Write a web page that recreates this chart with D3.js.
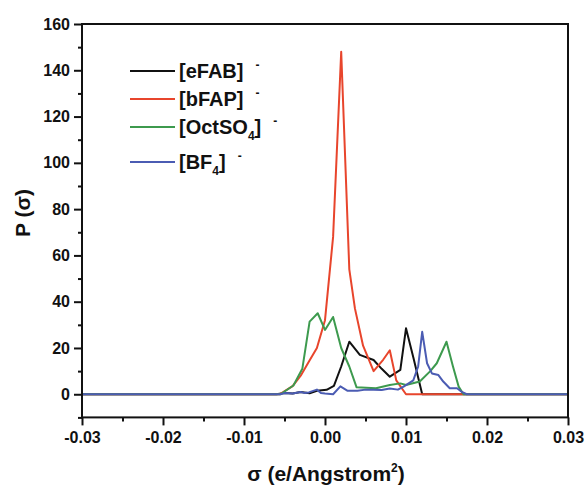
<!DOCTYPE html>
<html>
<head>
<meta charset="utf-8">
<script src="https://cdn.jsdelivr.net/npm/d3@7"></script>
<style>
body { margin: 0; background: #fff; }
text { font-family: "Liberation Sans", Arial, sans-serif; font-weight: bold; }
</style>
</head>
<body>
<script>
// sigma (e/A^2) and P(sigma)
var eFABSigma = [-0.03, -0.006, -0.005, -0.004, -0.003, -0.0019, -0.001, 0.0002, 0.0011, 0.002, 0.003, 0.0043, 0.006, 0.007, 0.008, 0.0093, 0.01, 0.0109, 0.012, 0.03];
var eFABP     = [0, 0, 0.5, 0.3, 1, 0.4, 1.5, 1.9, 3.6, 12, 22.7, 17, 14.8, 11, 7.6, 10.5, 28.5, 16, 0, 0];

var bFAPSigma = [-0.03, -0.0056, -0.004, -0.003, -0.002, -0.001, 0, 0.001, 0.002, 0.003, 0.0037, 0.0047, 0.006, 0.0072, 0.008, 0.0088, 0.01, 0.03];
var bFAPP     = [0, 0, 3.5, 8, 14, 20, 32, 68, 148, 54, 37, 21, 10, 15, 19, 6, 0, 0];

var octSigma = [-0.03, -0.0055, -0.0039, -0.0028, -0.0019, -0.0009, 0, 0.001, 0.002, 0.003, 0.0039, 0.0063, 0.008, 0.0093, 0.01, 0.0117, 0.013, 0.0138, 0.015, 0.0158, 0.0165, 0.0171, 0.03];
var octP     = [0, 0, 3.8, 11, 31.4, 35, 27.8, 33.4, 20, 12, 3, 2.6, 4, 4.7, 4, 5.5, 10, 13.4, 22.7, 12, 3.3, 0, 0];

var bf4Sigma = [-0.03, -0.0055, -0.005, -0.004, -0.003, -0.0025, -0.002, -0.001, -0.0005, 0, 0.001, 0.0019, 0.0028, 0.004, 0.005, 0.006, 0.007, 0.008, 0.009, 0.0097, 0.0109, 0.0115, 0.012, 0.0126, 0.0132, 0.014, 0.0146, 0.0154, 0.0163, 0.0169, 0.0175, 0.03];
var bf4P     = [0, 0, 0.5, 0.3, 1, 0.5, 0.8, 2, 0.5, 0.3, 0, 3.4, 1.5, 1.5, 2, 2, 1.8, 2.5, 2, 3.3, 6, 12, 27, 13.4, 9, 8.3, 5.5, 2.6, 2.6, 1, 0, 0];

var xTicks = [-0.03, -0.02, -0.01, 0, 0.01, 0.02, 0.03];
var yTicks = [0, 20, 40, 60, 80, 100, 120, 140, 160];

var series = [
  {name: "[eFAB]", sub: null, tail: "", sigma: eFABSigma, p: eFABP, color: "#111111"},
  {name: "[bFAP]", sub: null, tail: "", sigma: bFAPSigma, p: bFAPP, color: "#e8452c"},
  {name: "[OctSO", sub: "4", tail: "]", sigma: octSigma, p: octP, color: "#3d9a4e"},
  {name: "[BF", sub: "4", tail: "]", sigma: bf4Sigma, p: bf4P, color: "#4b5cb3"}
];

var svg = d3.select("body").append("svg")
    .attr("width", 586)
    .attr("height", 487);

var x = d3.scaleLinear().domain([-0.03, 0.03]).range([82, 568]);
var y = d3.scaleLinear().domain([-10, 160]).range([417.4, 24]);

// curves
var line = d3.line()
    .x(function(d) { return x(d[0]); })
    .y(function(d) { return y(d[1]); });

series.forEach(function(s) {
    var pts = s.sigma.map(function(v, i) { return [v, s.p[i]]; });
    svg.append("path")
        .datum(pts)
        .attr("fill", "none")
        .attr("stroke", s.color)
        .attr("stroke-width", 2)
        .attr("stroke-linejoin", "round")
        .attr("d", line);
});

// frame
svg.append("rect")
    .attr("x", x(-0.03)).attr("y", y(160))
    .attr("width", x(0.03) - x(-0.03))
    .attr("height", y(-10) - y(160))
    .attr("fill", "none")
    .attr("stroke", "#111")
    .attr("stroke-width", 2);

// x axis
var xMinor = svg.append("g")
    .attr("transform", "translate(0," + y(-10) + ")")
    .call(d3.axisBottom(x).tickValues([-0.025, -0.015, -0.005, 0.005, 0.015, 0.025]).tickSize(4).tickFormat(""));
var xaxis = svg.append("g")
    .attr("transform", "translate(0," + y(-10) + ")")
    .call(d3.axisBottom(x).tickValues(xTicks).tickSize(8).tickPadding(6).tickFormat(d3.format(".2f")));
[xMinor, xaxis].forEach(function(a) {
    a.select(".domain").remove();
    a.selectAll("line").attr("stroke", "#111").attr("stroke-width", 2);
});
xaxis.selectAll("text")
    .attr("font-size", 16)
    .attr("fill", "#111")
    .text(function(d) { return d3.format(".2f")(d).replace("−", "-"); });

// y axis
var yMinor = svg.append("g")
    .attr("transform", "translate(" + x(-0.03) + ",0)")
    .call(d3.axisLeft(y).tickValues([-10, 10, 30, 50, 70, 90, 110, 130, 150]).tickSize(4).tickFormat(""));
var yaxis = svg.append("g")
    .attr("transform", "translate(" + x(-0.03) + ",0)")
    .call(d3.axisLeft(y).tickValues(yTicks).tickSize(8).tickPadding(4));
[yMinor, yaxis].forEach(function(a) {
    a.select(".domain").remove();
    a.selectAll("line").attr("stroke", "#111").attr("stroke-width", 2);
});
yaxis.selectAll("text").attr("font-size", 16).attr("fill", "#111");

// axis titles
var xt = svg.append("text")
    .attr("x", 326).attr("y", 481)
    .attr("text-anchor", "middle")
    .attr("font-size", 21)
    .attr("fill", "#111");
xt.append("tspan").text("σ (e/Angstrom");
xt.append("tspan").attr("font-size", 12).attr("dy", -9).text("2");
xt.append("tspan").attr("dy", 9).text(")");

svg.append("text")
    .attr("transform", "translate(30,213) rotate(-90)")
    .attr("text-anchor", "middle")
    .attr("font-size", 21)
    .attr("fill", "#111")
    .text("P (σ)");

// legend
var legY = [71, 99, 127, 162];
series.forEach(function(s, i) {
    svg.append("line")
        .attr("x1", 130).attr("x2", 175)
        .attr("y1", legY[i]).attr("y2", legY[i])
        .attr("stroke", s.color)
        .attr("stroke-width", 2);
    var t = svg.append("text")
        .attr("x", 179).attr("y", legY[i] + 7)
        .attr("font-size", 20)
        .attr("fill", "#111");
    t.append("tspan").text(s.name);
    if (s.sub) {
        t.append("tspan").attr("font-size", 12).attr("dy", 6).text(s.sub);
        t.append("tspan").attr("dy", -6).text(s.tail);
    }
    t.append("tspan").attr("font-size", 12).attr("dx", 12).attr("dy", -9).text("-");
});
</script>
</body>
</html>
